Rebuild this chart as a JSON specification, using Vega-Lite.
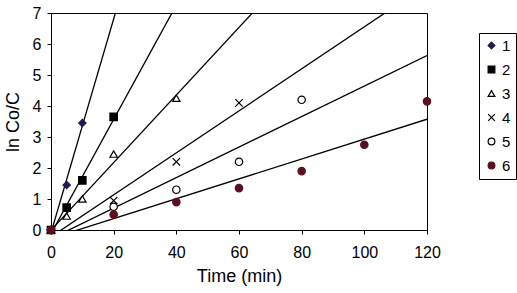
{
  "$schema": "https://vega.github.io/schema/vega-lite/v6.json",
  "width": 376,
  "height": 217,
  "autosize": "none",
  "padding": {"left": 51, "top": 13, "right": 90, "bottom": 63},
  "background": "white",
  "config": {
    "font": "Liberation Sans",
    "view": {"stroke": "black", "strokeWidth": 1},
    "axis": {
      "grid": false,
      "domainColor": "black",
      "tickColor": "black",
      "tickSize": 4,
      "labelColor": "black",
      "labelFontSize": 16,
      "labelFont": "Liberation Sans",
      "labelOverlap": false,
      "labelFlush": false,
      "titleFont": "Liberation Sans",
      "titleFontSize": 18,
      "titleFontWeight": "normal",
      "titleColor": "black"
    }
  },
  "data": {
    "values": [
      {"series": "1", "x": 0, "y": 0},
      {"series": "1", "x": 5, "y": 1.45},
      {"series": "1", "x": 10, "y": 3.45},
      {"series": "2", "x": 0, "y": 0},
      {"series": "2", "x": 5, "y": 0.72},
      {"series": "2", "x": 10, "y": 1.6},
      {"series": "2", "x": 20, "y": 3.65},
      {"series": "3", "x": 0, "y": 0},
      {"series": "3", "x": 5, "y": 0.45},
      {"series": "3", "x": 10, "y": 1.0},
      {"series": "3", "x": 20, "y": 2.45},
      {"series": "3", "x": 40, "y": 4.25},
      {"series": "4", "x": 0, "y": 0},
      {"series": "4", "x": 20, "y": 0.95},
      {"series": "4", "x": 40, "y": 2.2},
      {"series": "4", "x": 60, "y": 4.1},
      {"series": "5", "x": 0, "y": 0},
      {"series": "5", "x": 20, "y": 0.75},
      {"series": "5", "x": 40, "y": 1.3},
      {"series": "5", "x": 60, "y": 2.2},
      {"series": "5", "x": 80, "y": 4.2},
      {"series": "6", "x": 0, "y": 0},
      {"series": "6", "x": 20, "y": 0.5},
      {"series": "6", "x": 40, "y": 0.9},
      {"series": "6", "x": 60, "y": 1.35},
      {"series": "6", "x": 80, "y": 1.9},
      {"series": "6", "x": 100, "y": 2.75},
      {"series": "6", "x": 120, "y": 4.15}
    ]
  },
  "encoding": {
    "x": {
      "field": "x", "type": "quantitative",
      "scale": {"domain": [0, 120], "nice": false},
      "axis": {"values": [0, 20, 40, 60, 80, 100, 120], "title": "Time (min)", "labelPadding": 10, "titlePadding": 7}
    },
    "y": {
      "field": "y", "type": "quantitative",
      "scale": {"domain": [0, 7], "nice": false},
      "axis": {"values": [0, 1, 2, 3, 4, 5, 6, 7], "title": "ln Co/C", "labelPadding": 6, "titlePadding": 10}
    }
  },
  "layer": [
    {
      "transform": [
        {"regression": "y", "on": "x", "groupby": ["series"], "extent": [0, 120]}
      ],
      "mark": {"type": "line", "color": "black", "strokeWidth": 1.3, "clip": true},
      "encoding": {
        "detail": {"field": "series", "type": "nominal"}
      }
    },
    {
      "mark": {"type": "point", "opacity": 1, "strokeWidth": 1.2, "size": 55},
      "encoding": {
        "shape": {
          "field": "series", "type": "nominal",
          "scale": {
            "domain": ["1", "2", "3", "4", "5", "6"],
            "range": ["diamond", "square", "triangle-up", "M-1,-1L1,1M-1,1L1,-1", "circle", "circle"]
          },
          "legend": {
            "title": null, "orient": "none", "legendX": 428, "legendY": 20,
            "strokeColor": "black", "padding": 5, "rowPadding": 8,
            "labelFontSize": 15, "labelColor": "black", "labelOffset": 3, "symbolSize": 45, "symbolStrokeWidth": 1.2
          }
        },
        "stroke": {
          "field": "series", "type": "nominal",
          "scale": {
            "domain": ["1", "2", "3", "4", "5", "6"],
            "range": ["#1c1c50", "#000000", "#000000", "#000000", "#000000", "#5a1020"]
          },
          "legend": {
            "title": null, "orient": "none", "legendX": 428, "legendY": 20,
            "strokeColor": "black", "padding": 5, "rowPadding": 8,
            "labelFontSize": 15, "labelColor": "black", "labelOffset": 3, "symbolSize": 45, "symbolStrokeWidth": 1.2
          }
        },
        "fill": {
          "field": "series", "type": "nominal",
          "scale": {
            "domain": ["1", "2", "3", "4", "5", "6"],
            "range": ["#1c1c50", "#000000", "#ffffff", "#ffffff", "#ffffff", "#5a1020"]
          },
          "legend": {
            "title": null, "orient": "none", "legendX": 428, "legendY": 20,
            "strokeColor": "black", "padding": 5, "rowPadding": 8,
            "labelFontSize": 15, "labelColor": "black", "labelOffset": 3, "symbolSize": 45, "symbolStrokeWidth": 1.2
          }
        }
      }
    }
  ]
}
